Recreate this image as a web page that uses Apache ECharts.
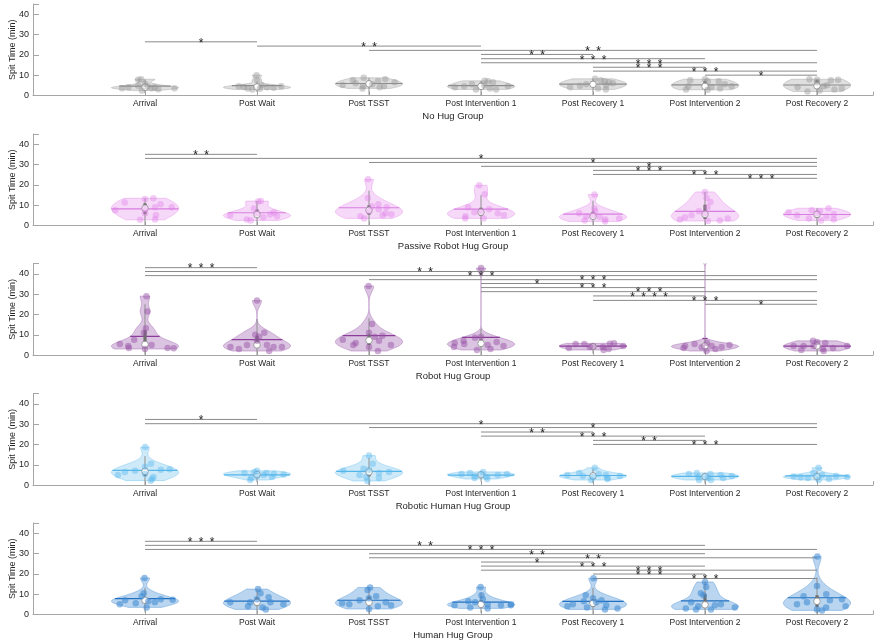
<!DOCTYPE html>
<html>
<head>
<meta charset="utf-8">
<script src="https://cdn.jsdelivr.net/npm/echarts@6/dist/echarts.min.js"></script>
<style>
html, body { margin: 0; padding: 0; background: #fff; }
#chart { width: 875px; height: 643px; }
</style>
</head>
<body>
<div id="chart"></div>
<script>
// spit time violins, 5 hug groups x 7 sampling times
var categories = ['Arrival', 'Post Wait', 'Post TSST', 'Post Intervention 1', 'Post Recovery 1', 'Post Intervention 2', 'Post Recovery 2'];
var groupNames = ['No Hug Group', 'Passive Robot Hug Group', 'Robot Hug Group', 'Robotic Human Hug Group', 'Human Hug Group'];

// values (min) per time point
var noHugValues = [
  [7.8, 8.0, 3.6, 2.5, 5.8, 4.5, 3.6, 3.1, 3.6, 4.1, 4.8, 4.0],
  [10.0, 7.5, 4.5, 3.5, 3.0, 4.0, 4.5, 3.8, 5.0, 4.2, 3.3],
  [8.7, 7.5, 6.0, 4.5, 3.5, 5.5, 7.0, 4.5, 8.0, 6.5, 4.0, 5.2],
  [4.5, 4.0, 3.0, 5.0, 7.2, 7.0, 6.5, 3.0, 4.5, 3.5, 5.5],
  [8.2, 7.5, 6.5, 6.0, 4.8, 4.0, 3.5, 3.0, 5.5, 7.0, 5.0],
  [7.5, 8.0, 7.0, 4.5, 3.0, 4.0, 3.5, 2.8, 5.5, 7.0, 4.5],
  [8.0, 7.8, 7.5, 6.5, 5.0, 4.5, 3.0, 2.5, 3.5, 4.0, 7.8, 2.0]
];
var passiveValues = [
  [11.3, 13.0, 13.4, 10.5, 9.0, 7.5, 5.0, 3.0, 2.8, 6.0, 8.0, 9.0],
  [12.0, 11.8, 8.4, 5.0, 3.0, 2.5, 5.4, 4.6, 6.4, 6.0, 4.0],
  [22.7, 13.5, 10.5, 9.5, 9.0, 6.0, 4.5, 3.5, 5.5, 7.0, 5.0, 8.0],
  [19.8, 15.4, 9.0, 8.0, 6.0, 4.5, 3.5, 3.5, 5.0, 7.0, 6.5],
  [15.2, 8.4, 6.0, 4.3, 3.0, 2.0, 5.0, 4.5, 7.0, 3.5, 2.5],
  [16.5, 13.5, 11.5, 9.0, 7.0, 5.0, 4.0, 3.0, 2.5, 3.5, 2.2, 6.0],
  [8.5, 7.5, 6.5, 5.0, 3.5, 2.5, 4.5, 3.0, 6.0, 7.0, 5.5]
];
var robotValues = [
  [29.0, 21.5, 13.2, 11.0, 7.5, 5.5, 4.5, 3.5, 3.5, 3.4, 5.0, 3.0],
  [26.8, 11.0, 10.0, 9.0, 5.0, 4.0, 3.0, 4.0, 4.0, 2.0, 7.0, 5.0],
  [34.0, 15.3, 11.0, 9.5, 7.5, 6.0, 5.0, 4.0, 7.0, 2.0, 5.0, 9.0],
  [42.8, 9.0, 8.5, 7.0, 6.0, 4.0, 5.0, 4.5, 3.0, 2.5, 6.5, 5.5],
  [5.5, 5.5, 5.6, 5.8, 4.0, 4.0, 3.0, 2.5, 4.5, 3.5, 4.2],
  [47.0, 6.0, 5.5, 4.5, 3.5, 4.0, 3.0, 2.0, 5.0, 3.8, 4.5],
  [7.0, 6.5, 6.0, 4.5, 4.5, 4.5, 3.0, 2.5, 2.0, 4.5, 3.5]
];
var roboticValues = [
  [18.7, 10.5, 9.0, 7.8, 6.5, 5.0, 4.0, 3.0, 2.2, 7.0, 5.5, 7.5],
  [7.0, 6.5, 6.0, 5.5, 5.0, 4.0, 4.5, 2.5, 3.5, 6.0, 5.2],
  [14.5, 10.5, 8.0, 7.0, 6.5, 6.0, 5.0, 4.0, 3.5, 2.0, 7.5],
  [6.5, 5.5, 5.0, 5.5, 4.5, 3.5, 3.0, 4.0, 6.0, 5.2],
  [8.5, 6.0, 5.5, 5.0, 4.5, 4.0, 3.5, 2.5, 3.0, 5.0, 4.5],
  [6.0, 5.5, 5.5, 5.0, 4.5, 4.0, 3.5, 2.5, 2.5, 4.2, 3.5],
  [8.5, 6.0, 5.0, 4.5, 4.2, 4.5, 3.5, 3.0, 2.5, 4.0, 3.8]
];
var humanValues = [
  [18.0, 10.5, 9.0, 7.5, 7.0, 6.5, 6.0, 5.5, 5.0, 3.5, 7.2],
  [12.5, 10.5, 8.5, 7.5, 6.0, 6.0, 6.0, 5.0, 4.0, 3.5, 2.5],
  [13.3, 12.0, 9.0, 8.0, 7.0, 5.0, 5.5, 4.5, 4.0, 2.7, 6.0],
  [13.5, 9.5, 7.5, 6.0, 5.0, 4.5, 4.5, 4.5, 3.5, 5.0, 6.5, 3.0],
  [17.8, 9.5, 8.0, 7.0, 6.5, 5.0, 4.5, 3.5, 3.0, 2.5, 6.0, 4.0],
  [16.0, 13.5, 10.5, 9.5, 6.0, 5.0, 4.0, 3.0, 2.5, 3.5, 2.5, 4.5],
  [28.5, 14.0, 10.0, 9.0, 7.5, 7.0, 6.0, 5.0, 4.0, 3.5, 2.5, 2.0]
];

// horizontal jitter of each point, as a fraction of the violin half width
var noHugJitter = [
  [-0.7, -0.4, -0.7, -0.2, 0.0, 0.1, 0.2, 0.5, 0.9, 0.3, -0.3, -0.5],
  [-0.1, 0.0, -0.6, -0.3, -0.2, 0.3, 0.8, 0.5, 0.2, -0.4, 0.1],
  [-0.3, -0.6, -0.4, -0.2, -0.3, 0.1, 0.3, 0.5, 0.7, 0.8, 0.4, -0.8],
  [-0.5, -0.8, -0.2, 0.1, 0.2, 0.35, 0.5, 0.6, 0.8, 0.3, -0.3],
  [0.1, 0.3, 0.5, 0.6, -0.4, -0.8, 0.2, 0.6, -0.2, 0.4, 0.4],
  [-0.6, 0.0, 0.1, -0.5, -0.7, 0.2, 0.5, 0.1, 0.6, 0.5, 0.8],
  [-0.3, 0.0, 0.5, 0.0, 0.3, 0.2, 0.6, 0.1, 0.8, -0.6, 0.8, -0.4]
];
var passiveJitter = [
  [-0.7, 0.0, 0.4, 0.5, 0.8, -0.9, 0.4, 0.5, -0.25, 0.0, 0.0, 0.3],
  [0.35, 0.1, -0.2, -0.8, -0.4, -0.3, 0.4, 0.6, 0.6, 0.0, 0.2],
  [-0.2, -0.1, 0.4, 0.1, 0.6, 0.5, -0.3, -0.2, 0.7, 0.0, 0.45, 0.3],
  [-0.3, 0.6, -0.6, 0.3, 0.5, -0.5, -0.6, 0.1, 0.7, 0.0, -0.2],
  [0.3, 0.1, -0.5, 0.2, 0.4, 0.5, 0.0, -0.2, 0.1, 0.8, -0.3],
  [0.0, 0.1, 0.3, 0.1, -0.2, -0.4, -0.6, -0.8, 0.5, 0.7, 0.1, 0.0],
  [0.6, -0.2, -0.9, -0.6, -0.3, 0.2, 0.3, 0.7, 0.0, 0.1, 0.5]
];
var robotJitter = [
  [0.3, 0.5, 0.1, -0.1, -0.5, -0.8, -0.5, -0.5, 0.7, 0.9, 0.2, 0.0],
  [0.0, 0.5, -0.1, 0.1, 0.3, -0.8, -0.6, 0.5, 0.75, 0.5, 0.0, -0.3],
  [-0.1, 0.4, 0.0, 0.5, -0.8, -0.4, -0.5, 0.0, 0.3, 0.5, 0.7, 0.2],
  [0.0, 0.0, -0.3, -0.6, -0.8, -0.9, 0.2, 0.7, 0.4, -0.2, 0.5, -0.5],
  [-0.6, -0.3, 0.6, 0.8, 0.3, -0.1, 0.6, 0.5, 0.9, -0.8, 0.0],
  [0.0, 0.1, -0.4, -0.6, -0.7, 0.5, 0.4, 0.1, 0.8, -0.1, 0.2],
  [-0.2, 0.0, 0.3, -0.7, -0.4, -0.1, 0.2, -0.6, 0.3, 0.9, 0.5]
];
var roboticJitter = [
  [0.05, 0.35, 0.0, 0.8, -0.6, -0.85, 0.3, 0.3, 0.3, -0.3, 0.0, 0.5],
  [0.0, -0.1, 0.3, 0.5, 0.2, 0.6, 0.0, -0.6, -0.3, -0.4, 0.8],
  [0.0, 0.3, -0.2, -0.8, 0.6, 0.3, -0.3, -0.1, 0.4, -0.1, 0.0],
  [0.1, -0.6, 0.5, 0.8, -0.2, -0.3, 0.4, 0.2, -0.4, 0.0],
  [0.3, -0.6, 0.2, 0.4, -0.3, 0.0, 0.5, -0.1, 0.6, -0.8, 0.8],
  [-0.4, -0.6, 0.2, 0.5, 0.8, -0.2, 0.1, -0.3, 0.3, 0.0, 0.6],
  [0.3, -0.3, 0.2, 0.0, -0.7, 0.6, -0.3, 0.5, 0.1, 0.9, -0.5]
];
var humanJitter = [
  [-0.1, -0.1, -0.15, 0.5, -0.6, 0.1, 0.3, -0.3, -0.9, 0.1, 0.85],
  [0.1, 0.2, 0.45, 0.0, -0.8, -0.2, 0.4, 0.8, -0.3, 0.2, 0.4],
  [0.1, -0.1, 0.3, 0.0, -0.3, -0.6, -0.8, 0.7, 0.3, 0.0, 0.5],
  [-0.1, 0.05, 0.1, -0.2, 0.2, -0.8, 0.6, 0.9, -0.4, 0.9, -0.5, 0.3],
  [0.1, -0.5, 0.0, 0.3, -0.3, -0.6, 0.4, -0.2, 0.9, 0.5, 0.1, -0.8],
  [0.0, 0.1, -0.3, -0.1, -0.5, 0.5, -0.2, -0.6, 0.2, 0.9, -0.3, 0.3],
  [0.1, 0.0, 0.4, -0.5, 0.8, 0.4, -0.3, -0.6, 0.9, 0.3, 0.0, 0.2]
];

// significance bars: [from time, to time, bar height, stars]
var noHugSig = [[1, 2, 26.4, '*'], [2, 4, 24.3, '**'], [3, 7, 22.2, '**'], [4, 5, 20.2, '**'], [4, 6, 18.1, '***'],
  [4, 7, 16.1, '***'], [5, 6, 13.9, '***'], [5, 7, 12.0, '***'], [6, 7, 10.0, '*']];
var passiveSig = [[1, 2, 35.0, '**'], [1, 7, 33.0, '*'], [3, 7, 31.0, '*'], [4, 7, 29.1, '*'], [5, 6, 27.1, '***'],
  [5, 7, 25.1, '***'], [6, 7, 23.2, '***']];
var robotSig = [[1, 2, 43.0, '***'], [1, 6, 41.1, '**'], [1, 7, 39.1, '***'], [3, 7, 37.1, '***'], [4, 5, 35.2, '*'],
  [4, 6, 33.2, '***'], [4, 7, 31.2, '***'], [5, 6, 29.1, '****'], [5, 7, 26.9, '***'], [6, 7, 25.0, '*']];
var roboticSig = [[1, 2, 32.3, '*'], [1, 7, 30.2, '*'], [3, 7, 28.3, '*'], [4, 5, 26.1, '**'], [4, 6, 24.1, '***'],
  [5, 6, 22.0, '**'], [5, 7, 20.0, '***']];
var humanSig = [[1, 2, 36.0, '***'], [1, 6, 34.0, '**'], [1, 7, 32.0, '***'], [3, 6, 29.9, '**'], [3, 7, 27.9, '**'],
  [4, 5, 25.8, '*'], [4, 6, 23.8, '***'], [4, 7, 21.8, '***'], [5, 6, 19.9, '***'], [5, 7, 17.7, '***']];

var yTicks = [0, 10, 20, 30, 40];

var allValues = [noHugValues, passiveValues, robotValues, roboticValues, humanValues];
var allJitter = [noHugJitter, passiveJitter, robotJitter, roboticJitter, humanJitter];
var allSig = [noHugSig, passiveSig, robotSig, roboticSig, humanSig];

// styling
var lineColors = ['#8c8c8c', '#d77fe0', '#8c3d9a', '#55b6ea', '#2170c2'];
var baseRgb = ['150,150,150', '224,128,232', '150,82,166', '92,184,236', '62,138,210'];
var fillAlpha = [0.3, 0.3, 0.34, 0.3, 0.36];
var pointAlpha = [0.55, 0.5, 0.6, 0.55, 0.7];
var tops = [4, 134, 263.6, 393.6, 523];
var violinWidth = 0.3;
var bwScale = 1.35;

function quantile(sorted, p) {
  var n = sorted.length;
  var pos = p * n - 0.5;
  if (pos <= 0) return sorted[0];
  if (pos >= n - 1) return sorted[n - 1];
  var i = Math.floor(pos);
  return sorted[i] + (pos - i) * (sorted[i + 1] - sorted[i]);
}

// gaussian kde like ksdensity, evaluated between data min and max
function violinStats(vals, jit, pos) {
  var n = vals.length;
  var sorted = vals.slice().sort(function (a, b) { return a - b; });
  var med = quantile(sorted, 0.5);
  var dev = sorted.map(function (v) { return Math.abs(v - med); }).sort(function (a, b) { return a - b; });
  var sig = quantile(dev, 0.5) / 0.6745;
  var h = bwScale * sig * Math.pow(4 / (3 * n), 0.2);
  var lo = sorted[0], hi = sorted[n - 1];
  var dens = [];
  var maxD = 0;
  for (var k = 0; k <= 200; k++) {
    var y = lo + (hi - lo) * k / 200;
    var d = 0;
    vals.forEach(function (v) { d += Math.exp(-0.5 * Math.pow((y - v) / h, 2)); });
    dens.push([y, d]);
    if (d > maxD) maxD = d;
  }
  dens.forEach(function (p) { p[1] = p[1] / maxD * violinWidth; });
  function widthAt(y) {
    if (y < lo || y > hi) return 0;
    var t = (y - lo) / (hi - lo) * 200;
    var i = Math.min(199, Math.floor(t));
    return dens[i][1] + (t - i) * (dens[i + 1][1] - dens[i][1]);
  }
  var q1 = quantile(sorted, 0.25), q3 = quantile(sorted, 0.75);
  var iqr = q3 - q1;
  var mean = vals.reduce(function (a, b) { return a + b; }, 0) / n;
  return {
    pos: pos,
    dens: dens,
    q1: q1, q3: q3, med: med, mean: mean,
    meanW: widthAt(mean),
    lowW: Math.max(0, q1 - 1.5 * iqr),
    hiW: Math.min(hi, q3 + 1.5 * iqr),
    points: vals.map(function (v, i) { return [pos + jit[i] * widthAt(v), v]; })
  };
}

var stats = allValues.map(function (groupVals, g) {
  return groupVals.map(function (vals, c) { return violinStats(vals, allJitter[g][c], c + 1); });
});

var grids = [], xAxes = [], yAxes = [], series = [];
var textColor = '#262626';
var axisGrey = '#a6a6a6';

groupNames.forEach(function (name, g) {
  grids.push({ left: 33, top: tops[g], width: 840, height: 91.5, containLabel: false, outerBoundsMode: 'none' });
  xAxes.push({
    type: 'value', gridIndex: g, min: 0, max: 7.5, interval: 1,
    name: name, nameLocation: 'middle', nameGap: 16, nameMoveOverlap: false,
    nameTextStyle: { fontSize: 9.5, color: textColor, fontFamily: 'Liberation Sans' },
    axisLine: { lineStyle: { color: axisGrey } },
    axisTick: { inside: true, length: 4, lineStyle: { color: axisGrey } },
    axisLabel: {
      fontSize: 8.5, color: textColor, margin: 4, fontFamily: 'Liberation Sans',
      formatter: function (v) { return categories[v - 1] || ''; }
    },
    splitLine: { show: false }
  });
  yAxes.push({
    type: 'value', gridIndex: g, min: 0, max: 45, interval: 10,
    name: 'Spit Time (min)', nameLocation: 'middle', nameGap: 16, nameMoveOverlap: false,
    nameTextStyle: { fontSize: 9, color: textColor, fontFamily: 'Liberation Sans' },
    axisLine: { show: true, lineStyle: { color: axisGrey } },
    axisTick: { inside: true, length: 6, lineStyle: { color: axisGrey } },
    axisLabel: {
      fontSize: 9, color: textColor, margin: 4, fontFamily: 'Liberation Sans',
      formatter: function (v) { return yTicks.indexOf(v) >= 0 ? String(v) : ''; }
    },
    splitLine: { show: false }
  });

  var st = stats[g];
  var rgb = baseRgb[g];

  // violin bodies
  series.push({
    type: 'custom', xAxisIndex: g, yAxisIndex: g, clip: true, silent: true,
    data: st.map(function (s) { return [s.pos, s.med]; }),
    renderItem: function (params, api) {
      var s = st[params.dataIndex];
      var left = s.dens.map(function (p) { return api.coord([s.pos - p[1], p[0]]); });
      var right = s.dens.map(function (p) { return api.coord([s.pos + p[1], p[0]]); }).reverse();
      return {
        type: 'polygon',
        shape: { points: left.concat(right) },
        style: { fill: 'rgba(' + rgb + ',' + fillAlpha[g] + ')', stroke: 'rgba(' + rgb + ',0.55)', lineWidth: 0.7 }
      };
    }
  });

  // jittered points
  var pts = [];
  st.forEach(function (s) { pts = pts.concat(s.points); });
  series.push({
    type: 'scatter', xAxisIndex: g, yAxisIndex: g, clip: true, silent: true,
    symbolSize: 6.5, data: pts,
    itemStyle: { color: 'rgba(' + rgb + ',' + pointAlpha[g] + ')' }
  });

  // mean line, whisker, iqr box, median
  series.push({
    type: 'custom', xAxisIndex: g, yAxisIndex: g, clip: true, silent: true,
    data: st.map(function (s) { return [s.pos, s.med]; }),
    renderItem: function (params, api) {
      var s = st[params.dataIndex];
      var m1 = api.coord([s.pos - s.meanW, s.mean]);
      var m2 = api.coord([s.pos + s.meanW, s.mean]);
      var wLo = api.coord([s.pos, s.lowW]);
      var wHi = api.coord([s.pos, s.hiW]);
      var b1 = api.coord([s.pos, s.q1]);
      var b3 = api.coord([s.pos, s.q3]);
      var md = api.coord([s.pos, s.med]);
      return {
        type: 'group',
        children: [
          { type: 'line', shape: { x1: m1[0], y1: m1[1], x2: m2[0], y2: m2[1] }, style: { stroke: lineColors[g], lineWidth: 1.2 } },
          { type: 'line', shape: { x1: wLo[0], y1: wLo[1], x2: wHi[0], y2: wHi[1] }, style: { stroke: '#8f8f8f', lineWidth: 1 } },
          { type: 'rect', shape: { x: b1[0] - 1.6, y: b3[1], width: 3.2, height: b1[1] - b3[1] }, style: { fill: '#6e6e6e' } },
          { type: 'circle', shape: { cx: md[0], cy: md[1], r: 3.3 }, style: { fill: '#fff', stroke: '#8a8a8a', lineWidth: 0.8 } }
        ]
      };
    }
  });

  // significance bars
  var sig = allSig[g];
  series.push({
    type: 'custom', xAxisIndex: g, yAxisIndex: g, clip: false, silent: true,
    data: sig.map(function (r) { return [r[0], r[2]]; }),
    renderItem: function (params, api) {
      var r = sig[params.dataIndex];
      var p1 = api.coord([r[0], r[2]]);
      var p2 = api.coord([r[1], r[2]]);
      var mid = (p1[0] + p2[0]) / 2;
      var kids = [{ type: 'line', shape: { x1: p1[0], y1: p1[1], x2: p2[0], y2: p2[1] }, style: { stroke: '#8a8a8a', lineWidth: 1 } }];
      var n = r[3].length;
      for (var k = 0; k < n; k++) {
        kids.push({
          type: 'text',
          style: {
            text: '*', x: mid + (k - (n - 1) / 2) * 11, y: p1[1] + 1.5,
            fill: '#222', font: '12px "Liberation Sans"', align: 'center', verticalAlign: 'middle'
          }
        });
      }
      return { type: 'group', children: kids };
    }
  });
});

var myChart = echarts.init(document.getElementById('chart'));
myChart.setOption({
  animation: false,
  backgroundColor: '#fff',
  grid: grids,
  xAxis: xAxes,
  yAxis: yAxes,
  series: series
});
</script>
</body>
</html>
